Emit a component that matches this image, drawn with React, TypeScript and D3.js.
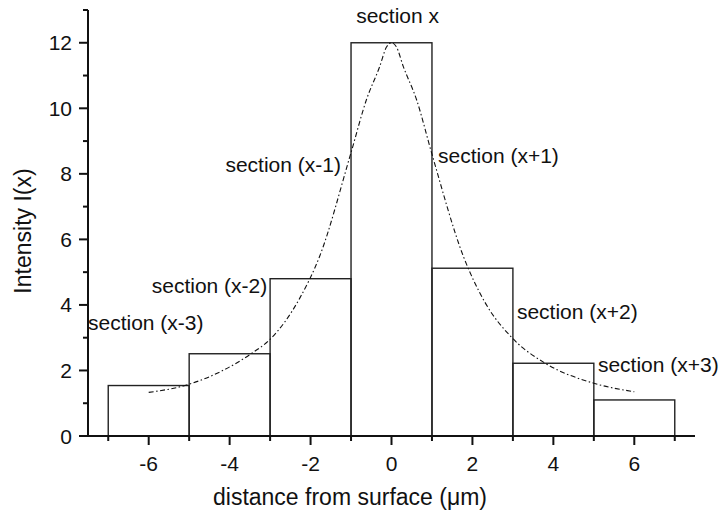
import React from "react";
import * as d3 from "d3";

const binStarts = [-7, -5, -3, -1, 1, 3, 5];
const binWidth = 2;
const intensities = [1.54, 2.51, 4.8, 12.0, 5.12, 2.22, 1.1];

const fitX = [-6, -5, -4.2, -3.47, -3, -2.27, -1.78, -1, -0.62, -0.29, -0.12, 0, 0.12, 0.29, 0.62, 1, 1.78, 2.3, 3, 3.8, 5, 6];
const fitY = [1.33, 1.58, 1.98, 2.51, 2.95, 4.2, 5.47, 8.65, 10.26, 11.28, 11.88, 12.0, 11.88, 11.28, 10.26, 8.6, 5.47, 4.1, 2.97, 2.22, 1.61, 1.35];

const xTicks = [-6, -4, -2, 0, 2, 4, 6];
const xMinorTicks = [-7, -5, -3, -1, 1, 3, 5, 7];
const yTicks = [0, 2, 4, 6, 8, 10, 12];
const yMinorTicks = [1, 3, 5, 7, 9, 11, 13];

const sectionLabels = [
  { text: "section x", x: 0.15, y: 12.6, anchor: "middle" },
  { text: "section (x-1)", x: -1.25, y: 8.07, anchor: "end" },
  { text: "section (x+1)", x: 1.15, y: 8.33, anchor: "start" },
  { text: "section (x-2)", x: -3.07, y: 4.36, anchor: "end" },
  { text: "section (x-3)", x: -7.5, y: 3.23, anchor: "start" },
  { text: "section (x+2)", x: 3.1, y: 3.56, anchor: "start" },
  { text: "section (x+3)", x: 5.1, y: 1.96, anchor: "start" },
];

const W = 719;
const H = 513;
const FONT = "'Liberation Sans', Arial, Helvetica, sans-serif";

export default function App() {
  const x = d3.scaleLinear().domain([-7.5, 7.5]).range([88, 695]);
  const y = d3.scaleLinear().domain([0, 13]).range([436, 10]);

  const pts: [number, number][] = fitX.map((v, i) => [v, fitY[i]]);
  const line = d3
    .line<[number, number]>()
    .x((d) => x(d[0]))
    .y((d) => y(d[1]))
    .curve(d3.curveMonotoneX);

  const fs = 21;
  const titleFs = 23;

  return (
    <svg
      width={W}
      height={H}
      style={{ position: "fixed", left: 0, top: 0, background: "#fff" }}
      fontFamily={FONT}
    >
      <rect x={0} y={0} width={W} height={H} fill="#fff" />
      {/* bars */}
      {binStarts.map((s, i) => (
        <rect
          key={i}
          x={x(s)}
          y={y(intensities[i])}
          width={x(s + binWidth) - x(s)}
          height={y(0) - y(intensities[i])}
          fill="none"
          stroke="#222"
          strokeWidth={1.4}
        />
      ))}
      {/* fit curve */}
      <path
        d={line(pts) || ""}
        fill="none"
        stroke="#111"
        strokeWidth={1.1}
        strokeDasharray="5,2.5,1.5,2.5"
      />
      {/* axes */}
      <line x1={x(-7.5)} x2={x(7.5)} y1={y(0)} y2={y(0)} stroke="#111" strokeWidth={2} />
      <line x1={x(-7.5)} x2={x(-7.5)} y1={y(0)} y2={y(13)} stroke="#111" strokeWidth={2} />
      {xTicks.map((t) => (
        <g key={"xt" + t}>
          <line x1={x(t)} x2={x(t)} y1={y(0)} y2={y(0) + 9} stroke="#111" strokeWidth={2} />
          <text x={x(t)} y={471} textAnchor="middle" fontSize={fs} fill="#111">
            {t}
          </text>
        </g>
      ))}
      {xMinorTicks.map((t) => (
        <line key={"xm" + t} x1={x(t)} x2={x(t)} y1={y(0)} y2={y(0) + 5} stroke="#111" strokeWidth={2} />
      ))}
      {yTicks.map((t) => (
        <g key={"yt" + t}>
          <line x1={x(-7.5) - 9} x2={x(-7.5)} y1={y(t)} y2={y(t)} stroke="#111" strokeWidth={2} />
          <text x={72} y={y(t) + 7.5} textAnchor="end" fontSize={fs} fill="#111">
            {t}
          </text>
        </g>
      ))}
      {yMinorTicks.map((t) => (
        <line key={"ym" + t} x1={x(-7.5) - 5} x2={x(-7.5)} y1={y(t)} y2={y(t)} stroke="#111" strokeWidth={2} />
      ))}
      {/* section labels */}
      {sectionLabels.map((l, i) => (
        <text
          key={i}
          x={x(l.x)}
          y={y(l.y)}
          textAnchor={l.anchor as any}
          fontSize={fs}
          fill="#111"
        >
          {l.text}
        </text>
      ))}
      {/* axis titles */}
      <text x={350} y={505} textAnchor="middle" fontSize={titleFs} fill="#111">
        distance from surface (μm)
      </text>
      <text
        transform={`translate(31,231) rotate(-90)`}
        textAnchor="middle"
        fontSize={titleFs}
        fill="#111"
      >
        Intensity I(x)
      </text>
    </svg>
  );
}
